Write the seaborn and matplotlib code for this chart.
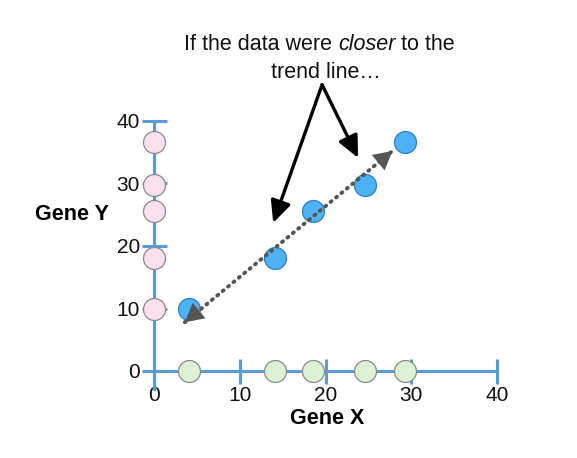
import matplotlib
matplotlib.use('Agg')
import matplotlib.pyplot as plt
import seaborn as sns

# values
gene_x = [4.1, 14.1, 18.6, 24.6, 29.3]
gene_y = [10.0, 18.1, 25.6, 29.8, 36.6]
ticks = [0, 10, 20, 30, 40]
trend_start = (3.6, 7.8)
trend_end = (27.8, 35.2)
note_apex = (19.6, 45.8)
note_tips = [(13.9, 23.7), (23.8, 34.1)]

sns.set_theme(style="white")
plt.rcParams['font.family'] = ['Liberation Sans', 'DejaVu Sans']

axis_blue = '#5b9bd5'

fig = plt.figure(figsize=(5.77, 4.58), dpi=100)
ax = fig.add_axes([154 / 577, 1 - 371 / 458, 343 / 577, 250 / 458])
ax.set_xlim(0, 40)
ax.set_ylim(0, 40)
ax.patch.set_visible(False)

# spines crossing at origin
for side in ['top', 'right']:
    ax.spines[side].set_visible(False)
for side in ['left', 'bottom']:
    ax.spines[side].set_color(axis_blue)
    ax.spines[side].set_linewidth(2.2)
ax.spines['left'].set_bounds(-2.9, 40)
ax.spines['bottom'].set_bounds(0, 40)

ax.set_xticks(ticks)
ax.set_yticks(ticks)
ax.tick_params(axis='both', direction='inout', length=18, width=2.2,
               color=axis_blue, labelsize=15, labelcolor='#111111',
               bottom=True, left=True)
ax.tick_params(axis='x', pad=2)
ax.tick_params(axis='y', pad=1)

# projections on the axes
sns.scatterplot(x=gene_x, y=[0] * len(gene_x), ax=ax, s=250, color='#dcf2d2',
                edgecolor='#8a8a8a', linewidth=0.9, clip_on=False, zorder=5)
sns.scatterplot(x=[0] * len(gene_y), y=gene_y, ax=ax, s=250, color='#fbe1ed',
                edgecolor='#8a8a8a', linewidth=0.9, clip_on=False, zorder=5)
# the actual data
sns.scatterplot(x=gene_x, y=gene_y, ax=ax, s=250, color='#4db2f6',
                edgecolor='#2f7fc0', linewidth=0.9, clip_on=False, zorder=5)

# dotted trend line, with solid heads at both ends
trend_col = '#555555'
ax.plot([trend_start[0], trend_end[0]], [trend_start[1], trend_end[1]],
        color=trend_col, lw=2.8, linestyle=(0, (0.3, 1.5)),
        dash_capstyle='round', clip_on=False, zorder=6)
for a, b in [(trend_start, trend_end), (trend_end, trend_start)]:
    inner = (b[0] + (a[0] - b[0]) * 0.08, b[1] + (a[1] - b[1]) * 0.08)
    ax.annotate('', xy=b, xytext=inner, annotation_clip=False,
                arrowprops=dict(arrowstyle='-|>,head_length=0.55,head_width=0.3',
                                color=trend_col, lw=0.01, mutation_scale=24,
                                shrinkA=0, shrinkB=0), zorder=6)

# black pointer arrows
for tip in note_tips:
    ax.annotate('', xy=tip, xytext=note_apex, annotation_clip=False,
                arrowprops=dict(arrowstyle='-|>,head_length=0.6,head_width=0.28',
                                color='black', lw=2.4, mutation_scale=22,
                                shrinkA=0, shrinkB=0),
                zorder=6)

# annotation text, with 'closer' in italics
t1 = fig.text(184 / 577, 1 - 45 / 458, 'If the data were ', fontsize=15.5,
              ha='left', va='center', color='#111111')
t2 = ax.annotate('closer', xy=(1, 0), xycoords=t1, va='bottom', ha='left',
                 fontsize=15.5, style='italic', color='#111111',
                 annotation_clip=False)
t3 = ax.annotate(' to the', xy=(1, 0), xycoords=t2, va='bottom', ha='left',
                 fontsize=15.5, color='#111111', annotation_clip=False)
fig.text(326 / 577, 1 - 72 / 458, 'trend line\u2026', fontsize=15.5,
         ha='center', va='center', color='#111111')

fig.text(327 / 577, 1 - 419 / 458, 'Gene X', fontsize=15.5, fontweight='bold',
         ha='center', va='center', color='black')
fig.text(72 / 577, 1 - 214 / 458, 'Gene Y', fontsize=15.5, fontweight='bold',
         ha='center', va='center', color='black')

fig.savefig('out.png', dpi=100)
